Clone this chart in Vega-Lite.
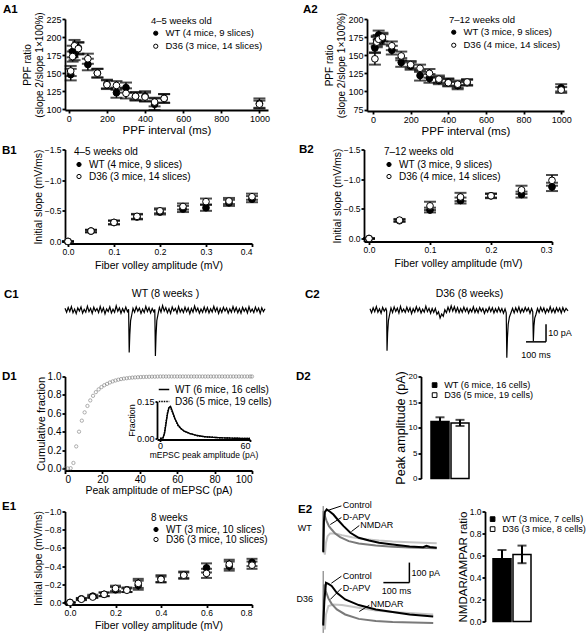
{
"$schema":"https://vega.github.io/schema/vega-lite/v6.json",
"background":"white",
"padding":{"left":2,"top":3,"right":0,"bottom":0},
"config":{
 "font":"Liberation Sans",
 "view":{"stroke":null},
 "axis":{"domainColor":"black","domainWidth":1.8,"tickColor":"black","tickWidth":1.8,"tickSize":3,"labelColor":"black","labelFontSize":9,"titleColor":"black","titleFontSize":10.5,"titleFontWeight":"normal","grid":false,"labelPadding":1,"titlePadding":1},
 "legend":{"labelFontSize":10,"titleFontSize":10,"titleFontWeight":"normal","labelColor":"black","titleColor":"black","symbolStrokeColor":"black","symbolStrokeWidth":1,"symbolSize":18,"rowPadding":2,"padding":0,"titlePadding":3,"labelOffset":5},
 "title":{"fontSize":11.5,"fontWeight":"bold","anchor":"start","frame":"group","color":"black","offset":0,"baseline":"bottom"}
},
"datasets":{
 "A1":[
  {"g":"WT (4 mice, 9 slices)","x":10,"y":148,"e":8},{"g":"WT (4 mice, 9 slices)","x":20,"y":180,"e":8},{"g":"WT (4 mice, 9 slices)","x":30,"y":175,"e":7},{"g":"WT (4 mice, 9 slices)","x":50,"y":185,"e":8},{"g":"WT (4 mice, 9 slices)","x":100,"y":162,"e":8},{"g":"WT (4 mice, 9 slices)","x":150,"y":150,"e":6},{"g":"WT (4 mice, 9 slices)","x":200,"y":135,"e":6},{"g":"WT (4 mice, 9 slices)","x":250,"y":123,"e":7},{"g":"WT (4 mice, 9 slices)","x":300,"y":130,"e":7},{"g":"WT (4 mice, 9 slices)","x":350,"y":118,"e":5},{"g":"WT (4 mice, 9 slices)","x":400,"y":118,"e":7},{"g":"WT (4 mice, 9 slices)","x":450,"y":107,"e":8},{"g":"WT (4 mice, 9 slices)","x":500,"y":115,"e":6},{"g":"WT (4 mice, 9 slices)","x":1000,"y":108,"e":7},
  {"g":"D36 (3 mice, 14 slices)","x":10,"y":153,"e":7},{"g":"D36 (3 mice, 14 slices)","x":20,"y":173,"e":7},{"g":"D36 (3 mice, 14 slices)","x":30,"y":188,"e":8},{"g":"D36 (3 mice, 14 slices)","x":50,"y":184,"e":8},{"g":"D36 (3 mice, 14 slices)","x":100,"y":170,"e":7},{"g":"D36 (3 mice, 14 slices)","x":150,"y":150,"e":6},{"g":"D36 (3 mice, 14 slices)","x":200,"y":134,"e":6},{"g":"D36 (3 mice, 14 slices)","x":250,"y":133,"e":6},{"g":"D36 (3 mice, 14 slices)","x":300,"y":122,"e":7},{"g":"D36 (3 mice, 14 slices)","x":350,"y":118,"e":6},{"g":"D36 (3 mice, 14 slices)","x":400,"y":117,"e":6},{"g":"D36 (3 mice, 14 slices)","x":450,"y":110,"e":6},{"g":"D36 (3 mice, 14 slices)","x":500,"y":115,"e":6},{"g":"D36 (3 mice, 14 slices)","x":1000,"y":107,"e":5}
 ],
 "A2":[
  {"g":"WT (3 mice, 9 slices)","x":10,"y":160,"e":6},{"g":"WT (3 mice, 9 slices)","x":20,"y":170,"e":7},{"g":"WT (3 mice, 9 slices)","x":30,"y":178,"e":6},{"g":"WT (3 mice, 9 slices)","x":50,"y":172,"e":7},{"g":"WT (3 mice, 9 slices)","x":100,"y":157,"e":6},{"g":"WT (3 mice, 9 slices)","x":150,"y":140,"e":6},{"g":"WT (3 mice, 9 slices)","x":200,"y":135,"e":5},{"g":"WT (3 mice, 9 slices)","x":250,"y":122,"e":7},{"g":"WT (3 mice, 9 slices)","x":300,"y":118,"e":6},{"g":"WT (3 mice, 9 slices)","x":350,"y":115,"e":5},{"g":"WT (3 mice, 9 slices)","x":400,"y":113,"e":5},{"g":"WT (3 mice, 9 slices)","x":450,"y":108,"e":5},{"g":"WT (3 mice, 9 slices)","x":500,"y":112,"e":4},{"g":"WT (3 mice, 9 slices)","x":1000,"y":105,"e":5},
  {"g":"D36 (4 mice, 14 slices)","x":10,"y":145,"e":8},{"g":"D36 (4 mice, 14 slices)","x":20,"y":168,"e":7},{"g":"D36 (4 mice, 14 slices)","x":30,"y":172,"e":6},{"g":"D36 (4 mice, 14 slices)","x":50,"y":175,"e":6},{"g":"D36 (4 mice, 14 slices)","x":100,"y":163,"e":6},{"g":"D36 (4 mice, 14 slices)","x":150,"y":149,"e":6},{"g":"D36 (4 mice, 14 slices)","x":200,"y":137,"e":5},{"g":"D36 (4 mice, 14 slices)","x":250,"y":132,"e":5},{"g":"D36 (4 mice, 14 slices)","x":300,"y":125,"e":6},{"g":"D36 (4 mice, 14 slices)","x":350,"y":117,"e":5},{"g":"D36 (4 mice, 14 slices)","x":400,"y":112,"e":5},{"g":"D36 (4 mice, 14 slices)","x":450,"y":110,"e":5},{"g":"D36 (4 mice, 14 slices)","x":500,"y":113,"e":4},{"g":"D36 (4 mice, 14 slices)","x":1000,"y":102,"e":4}
 ],
 "B1":[
  {"g":"WT (4 mice, 9 slices)","x":0,"y":0,"e":0},{"g":"WT (4 mice, 9 slices)","x":0.05,"y":-0.17,"e":0.02},{"g":"WT (4 mice, 9 slices)","x":0.1,"y":-0.31,"e":0.03},{"g":"WT (4 mice, 9 slices)","x":0.15,"y":-0.40,"e":0.04},{"g":"WT (4 mice, 9 slices)","x":0.2,"y":-0.48,"e":0.04},{"g":"WT (4 mice, 9 slices)","x":0.25,"y":-0.53,"e":0.05},{"g":"WT (4 mice, 9 slices)","x":0.3,"y":-0.55,"e":0.05},{"g":"WT (4 mice, 9 slices)","x":0.35,"y":-0.63,"e":0.05},{"g":"WT (4 mice, 9 slices)","x":0.4,"y":-0.69,"e":0.05},
  {"g":"D36 (3 mice, 14 slices)","x":0,"y":0,"e":0},{"g":"D36 (3 mice, 14 slices)","x":0.05,"y":-0.17,"e":0.02},{"g":"D36 (3 mice, 14 slices)","x":0.1,"y":-0.31,"e":0.03},{"g":"D36 (3 mice, 14 slices)","x":0.15,"y":-0.41,"e":0.04},{"g":"D36 (3 mice, 14 slices)","x":0.2,"y":-0.50,"e":0.04},{"g":"D36 (3 mice, 14 slices)","x":0.25,"y":-0.57,"e":0.05},{"g":"D36 (3 mice, 14 slices)","x":0.3,"y":-0.65,"e":0.05},{"g":"D36 (3 mice, 14 slices)","x":0.35,"y":-0.66,"e":0.05},{"g":"D36 (3 mice, 14 slices)","x":0.4,"y":-0.73,"e":0.05}
 ],
 "B2":[
  {"g":"WT (3 mice, 9 slices)","x":0,"y":0,"e":0},{"g":"WT (3 mice, 9 slices)","x":0.05,"y":-0.30,"e":0.02},{"g":"WT (3 mice, 9 slices)","x":0.1,"y":-0.48,"e":0.04},{"g":"WT (3 mice, 9 slices)","x":0.15,"y":-0.64,"e":0.05},{"g":"WT (3 mice, 9 slices)","x":0.2,"y":-0.72,"e":0.04},{"g":"WT (3 mice, 9 slices)","x":0.25,"y":-0.74,"e":0.05},{"g":"WT (3 mice, 9 slices)","x":0.3,"y":-0.87,"e":0.07},
  {"g":"D36 (4 mice, 14 slices)","x":0,"y":0,"e":0},{"g":"D36 (4 mice, 14 slices)","x":0.05,"y":-0.31,"e":0.02},{"g":"D36 (4 mice, 14 slices)","x":0.1,"y":-0.55,"e":0.07},{"g":"D36 (4 mice, 14 slices)","x":0.15,"y":-0.70,"e":0.07},{"g":"D36 (4 mice, 14 slices)","x":0.2,"y":-0.72,"e":0.03},{"g":"D36 (4 mice, 14 slices)","x":0.25,"y":-0.82,"e":0.07},{"g":"D36 (4 mice, 14 slices)","x":0.3,"y":-0.98,"e":0.09}
 ],
 "E1":[
  {"g":"WT (3 mice, 10 slices)","x":0,"y":0,"e":0},{"g":"WT (3 mice, 10 slices)","x":0.05,"y":-0.04,"e":0.01},{"g":"WT (3 mice, 10 slices)","x":0.1,"y":-0.07,"e":0.015},{"g":"WT (3 mice, 10 slices)","x":0.15,"y":-0.09,"e":0.02},{"g":"WT (3 mice, 10 slices)","x":0.2,"y":-0.14,"e":0.03},{"g":"WT (3 mice, 10 slices)","x":0.25,"y":-0.14,"e":0.025},{"g":"WT (3 mice, 10 slices)","x":0.3,"y":-0.19,"e":0.05},{"g":"WT (3 mice, 10 slices)","x":0.4,"y":-0.26,"e":0.04},{"g":"WT (3 mice, 10 slices)","x":0.5,"y":-0.30,"e":0.04},{"g":"WT (3 mice, 10 slices)","x":0.6,"y":-0.38,"e":0.05},{"g":"WT (3 mice, 10 slices)","x":0.7,"y":-0.40,"e":0.05},{"g":"WT (3 mice, 10 slices)","x":0.8,"y":-0.44,"e":0.04},
  {"g":"D36 (3 mice, 10 slices)","x":0,"y":0,"e":0},{"g":"D36 (3 mice, 10 slices)","x":0.05,"y":-0.036,"e":0.01},{"g":"D36 (3 mice, 10 slices)","x":0.1,"y":-0.06,"e":0.01},{"g":"D36 (3 mice, 10 slices)","x":0.15,"y":-0.09,"e":0.02},{"g":"D36 (3 mice, 10 slices)","x":0.2,"y":-0.155,"e":0.03},{"g":"D36 (3 mice, 10 slices)","x":0.25,"y":-0.135,"e":0.02},{"g":"D36 (3 mice, 10 slices)","x":0.3,"y":-0.21,"e":0.05},{"g":"D36 (3 mice, 10 slices)","x":0.4,"y":-0.255,"e":0.03},{"g":"D36 (3 mice, 10 slices)","x":0.5,"y":-0.30,"e":0.03},{"g":"D36 (3 mice, 10 slices)","x":0.6,"y":-0.32,"e":0.05},{"g":"D36 (3 mice, 10 slices)","x":0.7,"y":-0.42,"e":0.05},{"g":"D36 (3 mice, 10 slices)","x":0.8,"y":-0.41,"e":0.04}
 ],
 "C1":[{"t":0,"v":1.0},{"t":8,"v":-1.2},{"t":16,"v":1.5},{"t":24,"v":-0.8},{"t":32,"v":2.0},{"t":40,"v":-1.5},{"t":48,"v":0.6},{"t":56,"v":-2.0},{"t":64,"v":1.2},{"t":72,"v":-0.5},{"t":80,"v":1.8},{"t":88,"v":-1.7},{"t":96,"v":0.4},{"t":104,"v":-1.2},{"t":112,"v":2.2},{"t":120,"v":-0.9},{"t":128,"v":1.0},{"t":136,"v":-1.9},{"t":144,"v":1.6},{"t":152,"v":-0.6},{"t":160,"v":0.9},{"t":168,"v":-1.4},{"t":176,"v":2.0},{"t":184,"v":-1.0},{"t":192,"v":1.3},{"t":200,"v":-2.1},{"t":208,"v":0.7},{"t":216,"v":-0.8},{"t":224,"v":1.9},{"t":232,"v":-1.6},{"t":240,"v":0.5},{"t":248,"v":-1.3},{"t":256,"v":2.4},{"t":264,"v":-0.7},{"t":272,"v":1.2},{"t":280,"v":-1.8},{"t":288,"v":0.8},{"t":296,"v":-1.1},{"t":304,"v":1.7},{"t":312,"v":-0.9},{"t":318,"v":0.5},{"t":321,"v":-24},{"t":324,"v":-14},{"t":328,"v":-6},{"t":334,"v":-2.5},{"t":340,"v":1.0},{"t":348,"v":-1.2},{"t":356,"v":1.8},{"t":364,"v":-0.7},{"t":372,"v":1.1},{"t":380,"v":-1.9},{"t":388,"v":0.6},{"t":396,"v":-1.4},{"t":404,"v":2.1},{"t":412,"v":-0.8},{"t":420,"v":1.3},{"t":428,"v":-1.6},{"t":436,"v":0.9},{"t":444,"v":-1.0},{"t":449,"v":0.4},{"t":452,"v":-26},{"t":455,"v":-15},{"t":459,"v":-6},{"t":465,"v":-2.4},{"t":472,"v":1.5},{"t":480,"v":-1.2},{"t":488,"v":2.5},{"t":496,"v":-0.6},{"t":504,"v":1.4},{"t":512,"v":-1.5},{"t":520,"v":0.8},{"t":528,"v":-1.9},{"t":536,"v":1.8},{"t":544,"v":-0.5},{"t":552,"v":1.0},{"t":560,"v":-1.7},{"t":568,"v":2.0},{"t":576,"v":-1.1},{"t":584,"v":0.7},{"t":592,"v":-1.4},{"t":600,"v":1.6},{"t":608,"v":-0.9},{"t":616,"v":1.2},{"t":624,"v":-2.0},{"t":632,"v":0.9},{"t":640,"v":-1.2},{"t":648,"v":2.3},{"t":656,"v":-0.7},{"t":664,"v":1.1},{"t":672,"v":-1.8},{"t":680,"v":0.6},{"t":688,"v":-1.3},{"t":696,"v":1.7},{"t":704,"v":-1.0},{"t":712,"v":1.4},{"t":720,"v":-1.6},{"t":728,"v":0.8},{"t":736,"v":-1.1},{"t":744,"v":2.1},{"t":752,"v":-0.8},{"t":760,"v":1.3},{"t":768,"v":-1.9},{"t":776,"v":0.9},{"t":784,"v":-1.3},{"t":792,"v":1.6},{"t":800,"v":-0.6},{"t":808,"v":1.2},{"t":816,"v":-1.7},{"t":824,"v":0.7},{"t":832,"v":-1.2},{"t":840,"v":2.0},{"t":848,"v":-0.9},{"t":856,"v":1.4},{"t":864,"v":-1.5},{"t":872,"v":0.8},{"t":880,"v":-1.8},{"t":888,"v":1.5},{"t":896,"v":-0.7},{"t":904,"v":1.0},{"t":912,"v":-1.6},{"t":920,"v":1.9},{"t":928,"v":-1.0},{"t":936,"v":0.6},{"t":944,"v":-1.4},{"t":952,"v":1.7},{"t":960,"v":-0.8},{"t":968,"v":1.1},{"t":976,"v":-1.9},{"t":984,"v":1.3},{"t":992,"v":-0.9},{"t":1000,"v":0.8}],
 "C2":[{"t":0,"v":0.8},{"t":8,"v":-1.5},{"t":16,"v":1.3},{"t":24,"v":-0.9},{"t":32,"v":2.0},{"t":40,"v":-1.2},{"t":48,"v":0.7},{"t":56,"v":-1.8},{"t":64,"v":1.5},{"t":72,"v":-0.6},{"t":80,"v":0.9},{"t":84,"v":-0.5},{"t":86,"v":-23},{"t":89,"v":-13},{"t":93,"v":-6},{"t":99,"v":-2.5},{"t":106,"v":1.2},{"t":114,"v":-1.4},{"t":122,"v":1.8},{"t":130,"v":-0.8},{"t":138,"v":1.1},{"t":146,"v":-1.7},{"t":154,"v":2.1},{"t":162,"v":-1.0},{"t":170,"v":0.6},{"t":178,"v":-1.3},{"t":186,"v":1.6},{"t":194,"v":-0.9},{"t":202,"v":1.3},{"t":210,"v":-2.0},{"t":218,"v":0.8},{"t":226,"v":-1.1},{"t":234,"v":1.9},{"t":242,"v":-0.7},{"t":250,"v":1.2},{"t":258,"v":-1.6},{"t":266,"v":0.5},{"t":274,"v":-1.2},{"t":282,"v":2.2},{"t":290,"v":-0.9},{"t":298,"v":1.0},{"t":306,"v":-1.8},{"t":314,"v":0.9},{"t":322,"v":-1.3},{"t":330,"v":1.0},{"t":338,"v":-2.4},{"t":346,"v":-1.0},{"t":354,"v":-4.5},{"t":362,"v":-2.2},{"t":370,"v":-3.5},{"t":378,"v":0.2},{"t":386,"v":-1.5},{"t":394,"v":1.6},{"t":402,"v":-0.8},{"t":410,"v":2.4},{"t":418,"v":-0.6},{"t":426,"v":1.9},{"t":434,"v":-1.1},{"t":442,"v":1.4},{"t":450,"v":-1.5},{"t":458,"v":0.9},{"t":466,"v":-1.2},{"t":474,"v":1.7},{"t":482,"v":-0.8},{"t":490,"v":1.1},{"t":498,"v":-1.7},{"t":506,"v":0.7},{"t":514,"v":-1.0},{"t":522,"v":1.8},{"t":530,"v":-1.3},{"t":538,"v":0.8},{"t":546,"v":-1.5},{"t":554,"v":1.5},{"t":562,"v":-0.7},{"t":570,"v":1.0},{"t":578,"v":-1.9},{"t":586,"v":0.6},{"t":594,"v":-1.1},{"t":602,"v":1.6},{"t":610,"v":-0.9},{"t":618,"v":1.3},{"t":626,"v":-1.6},{"t":634,"v":0.8},{"t":642,"v":-1.2},{"t":650,"v":1.4},{"t":658,"v":-1.0},{"t":666,"v":0.9},{"t":674,"v":-1.8},{"t":682,"v":0.7},{"t":688,"v":-1.5},{"t":691,"v":-27},{"t":694,"v":-16},{"t":698,"v":-8},{"t":704,"v":-4},{"t":712,"v":-1.5},{"t":720,"v":1.0},{"t":728,"v":-1.6},{"t":736,"v":1.3},{"t":744,"v":-0.9},{"t":752,"v":1.7},{"t":760,"v":-1.4},{"t":768,"v":0.8},{"t":776,"v":-1.1},{"t":784,"v":1.5},{"t":792,"v":-0.6},{"t":800,"v":1.1},{"t":808,"v":-1.8},{"t":816,"v":0.9},{"t":822,"v":-0.9},{"t":825,"v":-17.5},{"t":828,"v":-9},{"t":832,"v":-4.5},{"t":838,"v":-2.5},{"t":846,"v":0.9},{"t":854,"v":-1.3},{"t":862,"v":1.6},{"t":870,"v":-0.8},{"t":878,"v":1.2},{"t":886,"v":-1.7},{"t":894,"v":0.7},{"t":902,"v":-1.0},{"t":910,"v":1.9},{"t":918,"v":-1.2},{"t":926,"v":0.8},{"t":934,"v":-1.5},{"t":942,"v":1.3},{"t":950,"v":-0.8},{"t":958,"v":1.1},{"t":966,"v":-1.6},{"t":974,"v":1.4},{"t":982,"v":-0.9},{"t":990,"v":1.0},{"t":1000,"v":-0.5}],
 "D1cdf":[{"x":0,"f":0},{"x":1.5,"f":0},{"x":3,"f":0.003},{"x":4.5,"f":0.06},{"x":6,"f":0.24},{"x":7.5,"f":0.40},{"x":9,"f":0.52},{"x":10.5,"f":0.61},{"x":12,"f":0.68},{"x":13.5,"f":0.74},{"x":15,"f":0.79},{"x":16.5,"f":0.83},{"x":18,"f":0.86},{"x":19.5,"f":0.885},{"x":21,"f":0.905},{"x":22.5,"f":0.92},{"x":24,"f":0.935},{"x":25.5,"f":0.947},{"x":27,"f":0.957},{"x":28.5,"f":0.965},{"x":30,"f":0.972},{"x":31.5,"f":0.977},{"x":33,"f":0.981},{"x":34.5,"f":0.985},{"x":36,"f":0.988},{"x":37.5,"f":0.99},{"x":39,"f":0.992},{"x":40.5,"f":0.994},{"x":42,"f":0.995},{"x":43.5,"f":0.996},{"x":45,"f":0.997},{"x":46.5,"f":0.998},{"x":48,"f":0.998},{"x":49.5,"f":0.999},{"x":51,"f":1},{"x":52.5,"f":1},{"x":54,"f":1},{"x":55.5,"f":1},{"x":57,"f":1},{"x":58.5,"f":1},{"x":60,"f":1},{"x":61.5,"f":1},{"x":63,"f":1},{"x":64.5,"f":1},{"x":66,"f":1},{"x":67.5,"f":1},{"x":69,"f":1},{"x":70.5,"f":1},{"x":72,"f":1},{"x":73.5,"f":1},{"x":75,"f":1},{"x":76.5,"f":1},{"x":78,"f":1},{"x":79.5,"f":1},{"x":81,"f":1},{"x":82.5,"f":1},{"x":84,"f":1},{"x":85.5,"f":1},{"x":87,"f":1},{"x":88.5,"f":1},{"x":90,"f":1},{"x":91.5,"f":1},{"x":93,"f":1},{"x":94.5,"f":1},{"x":96,"f":1},{"x":97.5,"f":1},{"x":99,"f":1},{"x":100,"f":1}],
 "D1hist":[
  {"g":"WT (6 mice, 16 cells)","x":0,"f":0},{"g":"WT (6 mice, 16 cells)","x":2,"f":0.002},{"g":"WT (6 mice, 16 cells)","x":3,"f":0.02},{"g":"WT (6 mice, 16 cells)","x":4,"f":0.06},{"g":"WT (6 mice, 16 cells)","x":5,"f":0.10},{"g":"WT (6 mice, 16 cells)","x":6,"f":0.125},{"g":"WT (6 mice, 16 cells)","x":7,"f":0.13},{"g":"WT (6 mice, 16 cells)","x":8,"f":0.115},{"g":"WT (6 mice, 16 cells)","x":10,"f":0.08},{"g":"WT (6 mice, 16 cells)","x":12,"f":0.055},{"g":"WT (6 mice, 16 cells)","x":14,"f":0.04},{"g":"WT (6 mice, 16 cells)","x":16,"f":0.03},{"g":"WT (6 mice, 16 cells)","x":20,"f":0.02},{"g":"WT (6 mice, 16 cells)","x":25,"f":0.012},{"g":"WT (6 mice, 16 cells)","x":30,"f":0.007},{"g":"WT (6 mice, 16 cells)","x":40,"f":0.003},{"g":"WT (6 mice, 16 cells)","x":50,"f":0.001},{"g":"WT (6 mice, 16 cells)","x":60,"f":0},
  {"g":"D36 (5 mice, 19 cells)","x":0,"f":0},{"g":"D36 (5 mice, 19 cells)","x":2,"f":0.003},{"g":"D36 (5 mice, 19 cells)","x":3,"f":0.025},{"g":"D36 (5 mice, 19 cells)","x":4,"f":0.065},{"g":"D36 (5 mice, 19 cells)","x":5,"f":0.105},{"g":"D36 (5 mice, 19 cells)","x":6,"f":0.128},{"g":"D36 (5 mice, 19 cells)","x":7,"f":0.127},{"g":"D36 (5 mice, 19 cells)","x":8,"f":0.11},{"g":"D36 (5 mice, 19 cells)","x":10,"f":0.078},{"g":"D36 (5 mice, 19 cells)","x":12,"f":0.052},{"g":"D36 (5 mice, 19 cells)","x":14,"f":0.04},{"g":"D36 (5 mice, 19 cells)","x":16,"f":0.031},{"g":"D36 (5 mice, 19 cells)","x":20,"f":0.02},{"g":"D36 (5 mice, 19 cells)","x":25,"f":0.011},{"g":"D36 (5 mice, 19 cells)","x":30,"f":0.007},{"g":"D36 (5 mice, 19 cells)","x":40,"f":0.003},{"g":"D36 (5 mice, 19 cells)","x":50,"f":0.001},{"g":"D36 (5 mice, 19 cells)","x":60,"f":0}
 ],
 "D2":[{"g":"WT (6 mice, 16 cells)","m":11.2,"e":0.8},{"g":"D36 (5 mice, 19 cells)","m":10.9,"e":0.6}],
 "E2b":[{"g":"WT (3 mice, 7 cells)","m":0.57,"e":0.08},{"g":"D36 (3 mice, 8 cells)","m":0.61,"e":0.08}],
 "E2ctrl":[
  {"c":"WT","t":-3,"y":0},{"c":"WT","t":0,"y":0},{"c":"WT","t":2.5,"y":150},{"c":"WT","t":6,"y":195},{"c":"WT","t":12.5,"y":208},{"c":"WT","t":25,"y":197},{"c":"WT","t":37.5,"y":183},{"c":"WT","t":56,"y":153},{"c":"WT","t":75,"y":125},{"c":"WT","t":100,"y":92},{"c":"WT","t":131,"y":67},{"c":"WT","t":169,"y":53},{"c":"WT","t":206,"y":42},{"c":"WT","t":256,"y":33},{"c":"WT","t":319,"y":23},{"c":"WT","t":369,"y":20},{"c":"WT","t":381,"y":27},{"c":"WT","t":394,"y":21},{"c":"WT","t":419,"y":17},
  {"c":"D36","t":-3,"y":-366},{"c":"D36","t":0,"y":-366},{"c":"D36","t":4,"y":-249},{"c":"D36","t":10,"y":-158},{"c":"D36","t":19,"y":-163},{"c":"D36","t":31,"y":-174},{"c":"D36","t":50,"y":-208},{"c":"D36","t":81,"y":-241},{"c":"D36","t":131,"y":-269},{"c":"D36","t":194,"y":-291},{"c":"D36","t":256,"y":-304},{"c":"D36","t":319,"y":-316},{"c":"D36","t":406,"y":-326}
 ],
 "E2dapv":[
  {"c":"WT","t":-3,"y":0},{"c":"WT","t":0,"y":0},{"c":"WT","t":1.25,"y":200},{"c":"WT","t":6,"y":175},{"c":"WT","t":12.5,"y":150},{"c":"WT","t":21,"y":125},{"c":"WT","t":31,"y":108},{"c":"WT","t":44,"y":88},{"c":"WT","t":62.5,"y":70},{"c":"WT","t":94,"y":50},{"c":"WT","t":131,"y":38},{"c":"WT","t":194,"y":28},{"c":"WT","t":256,"y":22},{"c":"WT","t":319,"y":18},{"c":"WT","t":419,"y":15},
  {"c":"D36","t":-3,"y":-366},{"c":"D36","t":0,"y":-366},{"c":"D36","t":2.5,"y":-166},{"c":"D36","t":9,"y":-199},{"c":"D36","t":19,"y":-236},{"c":"D36","t":31,"y":-263},{"c":"D36","t":50,"y":-291},{"c":"D36","t":81,"y":-316},{"c":"D36","t":131,"y":-338},{"c":"D36","t":194,"y":-349},{"c":"D36","t":256,"y":-354},{"c":"D36","t":406,"y":-359}
 ],
 "E2nmdar":[
  {"c":"WT","t":2.5,"y":0},{"c":"WT","t":6,"y":-17},{"c":"WT","t":10,"y":42},{"c":"WT","t":16,"y":75},{"c":"WT","t":25,"y":88},{"c":"WT","t":44,"y":88},{"c":"WT","t":69,"y":80},{"c":"WT","t":106,"y":70},{"c":"WT","t":156,"y":60},{"c":"WT","t":206,"y":53},{"c":"WT","t":256,"y":48},{"c":"WT","t":319,"y":45},{"c":"WT","t":419,"y":40},
  {"c":"D36","t":2.5,"y":-366},{"c":"D36","t":6,"y":-391},{"c":"D36","t":10,"y":-316},{"c":"D36","t":19,"y":-274},{"c":"D36","t":37.5,"y":-266},{"c":"D36","t":69,"y":-269},{"c":"D36","t":131,"y":-283},{"c":"D36","t":194,"y":-296},{"c":"D36","t":256,"y":-304},{"c":"D36","t":406,"y":-316}
 ],
 "E2art":[{"c":"WT","t":0,"y":-4,"y2":225},{"c":"D36","t":0,"y":-408,"y2":-99}],
 "E2ptr":[{"t":67,"t2":18,"y":226,"y2":204},{"t":67,"t2":26,"y":168,"y2":133},{"t":133,"t2":104,"y":128,"y2":98},{"t":67,"t2":30,"y":-125,"y2":-160},{"t":67,"t2":26,"y":-185,"y2":-241},{"t":170,"t2":133,"y":-270,"y2":-301}],
 "E2lab":[{"t":72,"y":228,"s":"Control"},{"t":72,"y":173,"s":"D-APV"},{"t":137,"y":133,"s":"NMDAR"},{"t":72,"y":-122,"s":"Control"},{"t":72,"y":-183,"s":"D-APV"},{"t":174,"y":-262,"s":"NMDAR"}],
 "E2cell":[{"t":-68,"y":118,"s":"WT"},{"t":-68,"y":-241,"s":"D36"}],
 "E2bar":[{"t":222,"t2":318,"y":-157,"y2":-157},{"t":318,"t2":318,"y":-57,"y2":-157}]
},
"resolve":{"scale":{"fill":"independent","strokeDash":"independent"},"legend":{"fill":"independent","strokeDash":"independent"}},
"spacing":6.5,
"vconcat":[
 {"hconcat":[
  {"width":203,"height":91,"title":{"text":"A1","dx":-62,"dy":8},"data":{"name":"A1"},
   "encoding":{
    "x":{"field":"x","type":"quantitative","scale":{"domain":[-20,1045],"nice":false,"zero":false},"axis":{"values":[0,200,400,600,800,1000],"format":"d","title":"PPF interval (ms)","titleFontSize":11.5}},
    "y":{"field":"y","type":"quantitative","scale":{"domain":[99,225],"nice":false,"zero":false},"axis":{"values":[100,125,150,175,200,225],"title":["PPF ratio","(slope 2/slope 1×100%)"],"titleFontSize":10}}},
   "layer":[
    {"mark":{"type":"errorbar","ticks":{"size":12,"thickness":2},"thickness":1.5,"color":"black"},"encoding":{"yError":{"field":"e"}}},
    {"mark":{"type":"point","filled":true,"shape":"circle","size":45,"stroke":"black","strokeWidth":1,"opacity":1},
     "encoding":{"fill":{"field":"g","type":"nominal","scale":{"domain":["WT (4 mice, 9 slices)","D36 (3 mice, 14 slices)"],"range":["black","white"]},"legend":{"title":"4–5 weeks old","orient":"none","legendX":86,"legendY":-3,"labelFontSize":9.5,"titleFontSize":9.5}}}}
   ]},
  {"width":197,"height":92,"title":{"text":"A2","dx":-64,"dy":7},"data":{"name":"A2"},
   "encoding":{
    "x":{"field":"x","type":"quantitative","scale":{"domain":[-32,1015],"nice":false,"zero":false},"axis":{"values":[0,200,400,600,800,1000],"format":"d","title":"PPF interval (ms)","titleFontSize":11.5}},
    "y":{"field":"y","type":"quantitative","scale":{"domain":[73,200],"nice":false,"zero":false},"axis":{"values":[75,100,125,150,175,200],"title":["PPF ratio","(slope 2/slope 1×100%)"],"titleFontSize":10}}},
   "layer":[
    {"mark":{"type":"errorbar","ticks":{"size":12,"thickness":2},"thickness":1.5,"color":"black"},"encoding":{"yError":{"field":"e"}}},
    {"mark":{"type":"point","filled":true,"shape":"circle","size":45,"stroke":"black","strokeWidth":1,"opacity":1},
     "encoding":{"fill":{"field":"g","type":"nominal","scale":{"domain":["WT (3 mice, 9 slices)","D36 (4 mice, 14 slices)"],"range":["black","white"]},"legend":{"title":"7–12 weeks old","orient":"none","legendX":82,"legendY":-4,"labelFontSize":9.5,"titleFontSize":9.5}}}}
   ]}
 ],"spacing":33,
 "resolve":{"scale":{"fill":"independent"},"legend":{"fill":"independent"}}},
 {"vconcat":[
  {"hconcat":[
   {"width":187,"height":94,"title":{"text":"B1","dx":-63,"dy":15},"data":{"name":"B1"},
    "encoding":{
     "x":{"field":"x","type":"quantitative","scale":{"domain":[-0.0065,0.4],"nice":false,"zero":false},"axis":{"values":[0,0.1,0.2,0.3,0.4],"format":".1f","title":"Fiber volley amplitude (mV)","titlePadding":4,"labelFontSize":8.5}},
     "y":{"field":"y","type":"quantitative","scale":{"domain":[0.033,-1.5],"nice":false,"zero":false},"axis":{"values":[0,-0.5,-1,-1.5],"format":".1f","title":"Initial slope (mV/ms)","labelFontSize":8.5}}},
    "layer":[
     {"mark":{"type":"errorbar","ticks":{"size":12,"thickness":2},"thickness":1.5,"color":"black"},"encoding":{"yError":{"field":"e"}}},
     {"mark":{"type":"point","filled":true,"shape":"circle","size":45,"stroke":"black","strokeWidth":1,"opacity":1},
      "encoding":{"fill":{"field":"g","type":"nominal","scale":{"domain":["WT (4 mice, 9 slices)","D36 (3 mice, 14 slices)"],"range":["black","white"]},"legend":{"title":"4–5 weeks old","orient":"none","legendX":9,"legendY":-3}}}}
    ]},
   {"width":188,"height":92,"title":{"text":"B2","dx":-65,"dy":14},"data":{"name":"B2"},
    "encoding":{
     "x":{"field":"x","type":"quantitative","scale":{"domain":[-0.0082,0.3],"nice":false,"zero":false},"axis":{"values":[0,0.1,0.2,0.3],"format":".1f","title":"Fiber volley amplitude (mV)","titlePadding":4,"labelFontSize":8.5}},
     "y":{"field":"y","type":"quantitative","scale":{"domain":[0.05,-1.5],"nice":false,"zero":false},"axis":{"values":[0,-0.5,-1,-1.5],"format":".1f","title":"Initial slope (mV/ms)","labelFontSize":8.5}}},
    "layer":[
     {"mark":{"type":"errorbar","ticks":{"size":12,"thickness":2},"thickness":1.5,"color":"black"},"encoding":{"yError":{"field":"e"}}},
     {"mark":{"type":"point","filled":true,"shape":"circle","size":45,"stroke":"black","strokeWidth":1,"opacity":1},
      "encoding":{"fill":{"field":"g","type":"nominal","scale":{"domain":["WT (3 mice, 9 slices)","D36 (4 mice, 14 slices)"],"range":["black","white"]},"legend":{"title":"7–12 weeks old","orient":"none","legendX":20,"legendY":-3}}}}
    ]}
  ],"spacing":41,
  "resolve":{"scale":{"fill":"independent"},"legend":{"fill":"independent"}}},
  {"vconcat":[
   {"hconcat":[
    {"width":200,"height":60,"title":{"text":"C1","dx":-61,"dy":16},"data":{"name":"C1"},
     "mark":{"type":"line","color":"black","strokeWidth":1.2},
     "encoding":{
      "x":{"field":"t","type":"quantitative","scale":{"domain":[0,1000],"nice":false,"zero":false},"axis":{"orient":"top","title":"WT (8 weeks )","labels":false,"ticks":false,"domain":false,"titlePadding":1}},
      "y":{"field":"v","type":"quantitative","scale":{"domain":[-28,6],"nice":false,"zero":false},"axis":null}}},
    {"width":198,"height":60,"title":{"text":"C2","dx":-65,"dy":16},
     "layer":[
      {"data":{"name":"C2"},"mark":{"type":"line","color":"black","strokeWidth":1.2},
       "encoding":{
        "x":{"field":"t","type":"quantitative","scale":{"domain":[0,1000],"nice":false,"zero":false},"axis":{"orient":"top","title":"D36 (8 weeks)","labels":false,"ticks":false,"domain":false,"titlePadding":1}},
        "y":{"field":"v","type":"quantitative","scale":{"domain":[-28,6],"nice":false,"zero":false},"axis":null}}},
      {"data":{"values":[{"t":788,"t2":889,"v":-18,"v2":-18},{"t":889,"t2":889,"v":-8,"v2":-18}]},"mark":{"type":"rule","color":"black","strokeWidth":1.5},
       "encoding":{"x":{"field":"t","type":"quantitative"},"x2":{"field":"t2"},"y":{"field":"v","type":"quantitative"},"y2":{"field":"v2"}}},
      {"data":{"values":[{"t":900,"v":-13,"s":"10 pA"}]},"mark":{"type":"text","align":"left","baseline":"middle","fontSize":9,"font":"Liberation Sans"},
       "encoding":{"x":{"field":"t","type":"quantitative"},"y":{"field":"v","type":"quantitative"},"text":{"field":"s"}}},
      {"data":{"values":[{"t":838,"v":-25.5,"s":"100 ms"}]},"mark":{"type":"text","align":"center","baseline":"middle","fontSize":9,"font":"Liberation Sans"},
       "encoding":{"x":{"field":"t","type":"quantitative"},"y":{"field":"v","type":"quantitative"},"text":{"field":"s"}}}
     ]}
   ],"spacing":37},
   {"vconcat":[
    {"hconcat":[
     {"width":187,"height":94,"title":{"text":"D1","dx":-63,"dy":14.5},
      "layer":[
       {"data":{"name":"D1cdf"},"mark":{"type":"point","shape":"circle","size":11,"filled":false,"stroke":"#6e6e6e","strokeWidth":0.8},
        "encoding":{
         "x":{"field":"x","type":"quantitative","scale":{"domain":[0,100],"nice":false,"zero":false},"axis":{"values":[0,20,40,60,80,100],"title":"Peak amplitude of mEPSC (pA)","orient":"bottom","labelFontSize":10}},
         "y":{"field":"f","type":"quantitative","scale":{"domain":[-0.022,1],"nice":false,"zero":false},"axis":{"values":[0,0.2,0.4,0.6,0.8,1],"format":".1f","title":"Cumulative fraction","orient":"left","titleFontSize":11,"labelFontSize":10}}}},
       {"data":{"name":"D1hist"},"mark":{"type":"line","color":"black","strokeWidth":1.4},
        "encoding":{
         "x":{"field":"x","type":"quantitative","scale":{"domain":[-2,60],"range":[92,185],"nice":false,"zero":false},"axis":{"orient":"bottom","offset":-31,"values":[0,60],"title":"mEPSC peak amplitude (pA)","titleFontSize":8.5,"labelFontSize":9,"titlePadding":0,"labelPadding":0,"tickSize":2}},
         "y":{"field":"f","type":"quantitative","scale":{"domain":[0,0.15],"range":[62,25],"nice":false,"zero":false},"axis":{"orient":"left","offset":-92,"values":[0,0.15],"format":".2f","title":"Fraction","titleFontSize":9,"titlePadding":0,"labelFontSize":9,"tickSize":2}},
         "strokeDash":{"field":"g","type":"nominal","scale":{"domain":["WT (6 mice, 16 cells)","D36 (5 mice, 19 cells)"],"range":[[1,0],[1.5,1]]},"legend":{"title":null,"orient":"none","legendX":93,"legendY":7,"symbolStrokeWidth":1.5,"symbolSize":110,"symbolType":"stroke","rowPadding":1}}}}
      ],
      "resolve":{"scale":{"x":"independent","y":"independent"},"axis":{"x":"independent","y":"independent"}}},
     {"width":58,"height":102,"title":{"text":"D2","dx":-125,"dy":15.5},"data":{"name":"D2"},
      "encoding":{"x":{"field":"g","type":"nominal","sort":null,"scale":{"paddingInner":0.1,"paddingOuter":0.5},"axis":null},
       "y":{"field":"m","type":"quantitative","scale":{"domain":[0,20],"nice":false},"axis":{"values":[0,5,10,15,20],"title":"Peak amplitude (pA)","titleFontSize":12.5,"labelFontSize":8}}},
      "layer":[
       {"mark":{"type":"bar","stroke":"black","strokeWidth":1.5},
        "encoding":{"fill":{"field":"g","type":"nominal","scale":{"domain":["WT (6 mice, 16 cells)","D36 (5 mice, 19 cells)"],"range":["black","white"]},"legend":{"title":null,"orient":"none","legendX":9,"legendY":4,"symbolType":"square","symbolSize":22,"labelFontSize":9.2,"rowPadding":0}}}},
       {"mark":{"type":"errorbar","ticks":{"size":9,"thickness":2},"thickness":2,"color":"black"},
        "encoding":{"yError":{"field":"e"}}}
      ]}
    ],"spacing":24,
    "resolve":{"scale":{"fill":"independent","strokeDash":"independent"},"legend":{"fill":"independent","strokeDash":"independent"}}},
    {"hconcat":[
     {"width":187,"height":93,"title":{"text":"E1","dx":-63,"dy":9},"data":{"name":"E1"},
      "encoding":{
       "x":{"field":"x","type":"quantitative","scale":{"domain":[-0.022,0.8],"nice":false,"zero":false},"axis":{"values":[0,0.2,0.4,0.6,0.8],"format":".1f","title":"Fiber volley amplitude (mV)","titlePadding":3,"labelFontSize":8.5}},
       "y":{"field":"y","type":"quantitative","scale":{"domain":[0.022,-1.0],"nice":false,"zero":false},"axis":{"values":[0,-0.2,-0.4,-0.6,-0.8,-1],"format":".1f","title":"Initial slope (mV/ms)","labelFontSize":8.5}}},
      "layer":[
       {"mark":{"type":"errorbar","ticks":{"size":11,"thickness":2},"thickness":1.5,"color":"black"},"encoding":{"yError":{"field":"e"}}},
       {"mark":{"type":"point","filled":true,"shape":"circle","size":45,"stroke":"black","strokeWidth":1,"opacity":1},
        "encoding":{"fill":{"field":"g","type":"nominal","scale":{"domain":["WT (3 mice, 10 slices)","D36 (3 mice, 10 slices)"],"range":["black","white"]},"legend":{"title":"8 weeks","orient":"none","legendX":86,"legendY":1,"rowPadding":0,"titlePadding":2}}}}
      ]},
     {"width":153,"height":123,"title":{"text":"E2","dx":14,"dy":18},
      "encoding":{
       "x":{"field":"t","type":"quantitative","scale":{"domain":[-145,420],"nice":false,"zero":false},"axis":null},
       "y":{"field":"y","type":"quantitative","scale":{"domain":[-416,198],"nice":false,"zero":false},"axis":null}},
      "layer":[
       {"data":{"name":"E2art"},"mark":{"type":"rule","color":"#9a9a9a","strokeWidth":1.5},"encoding":{"y2":{"field":"y2"}}},
       {"data":{"name":"E2nmdar"},"mark":{"type":"line","color":"#c4c4c4","strokeWidth":2},"encoding":{"detail":{"field":"c"}}},
       {"data":{"name":"E2dapv"},"mark":{"type":"line","color":"#7a7a7a","strokeWidth":2},"encoding":{"detail":{"field":"c"}}},
       {"data":{"name":"E2ctrl"},"mark":{"type":"line","color":"black","strokeWidth":2},"encoding":{"detail":{"field":"c"}}},
       {"data":{"name":"E2ptr"},"mark":{"type":"rule","color":"black","strokeWidth":1},"encoding":{"x2":{"field":"t2"},"y2":{"field":"y2"}}},
       {"data":{"name":"E2lab"},"mark":{"type":"text","align":"left","baseline":"middle","fontSize":9,"font":"Liberation Sans"},"encoding":{"text":{"field":"s"}}},
       {"data":{"name":"E2cell"},"mark":{"type":"text","align":"center","baseline":"middle","fontSize":9,"font":"Liberation Sans"},"encoding":{"text":{"field":"s"}}},
       {"data":{"name":"E2bar"},"mark":{"type":"rule","color":"black","strokeWidth":1.5},"encoding":{"x2":{"field":"t2"},"y2":{"field":"y2"}}},
       {"data":{"values":[{"t":326,"y":-107,"s":"100 pA"}]},"mark":{"type":"text","align":"left","baseline":"middle","fontSize":9,"font":"Liberation Sans"},"encoding":{"text":{"field":"s"}}},
       {"data":{"values":[{"t":270,"y":-197,"s":"100 ms"}]},"mark":{"type":"text","align":"center","baseline":"middle","fontSize":9,"font":"Liberation Sans"},"encoding":{"text":{"field":"s"}}}
      ]},
     {"width":54,"height":110,"data":{"name":"E2b"},
      "encoding":{"x":{"field":"g","type":"nominal","sort":null,"scale":{"paddingInner":0.1,"paddingOuter":0.4},"axis":null},
       "y":{"field":"m","type":"quantitative","scale":{"domain":[0,1],"nice":false},"axis":{"values":[0,0.2,0.4,0.6,0.8,1],"format":".1f","title":"NMDAR/AMPAR ratio","titleFontSize":11.5,"labelFontSize":8.5}}},
      "layer":[
       {"mark":{"type":"bar","stroke":"black","strokeWidth":1.5},
        "encoding":{"fill":{"field":"g","type":"nominal","scale":{"domain":["WT (3 mice, 7 cells)","D36 (3 mice, 8 cells)"],"range":["black","white"]},"legend":{"title":null,"orient":"none","legendX":3,"legendY":3,"symbolType":"square","symbolSize":22,"labelFontSize":9.2,"rowPadding":0}}}},
       {"mark":{"type":"errorbar","ticks":{"size":9,"thickness":2},"thickness":2,"color":"black"},
        "encoding":{"yError":{"field":"e"}}}
      ]}
    ],"spacing":16,
    "resolve":{"scale":{"fill":"independent"},"legend":{"fill":"independent"}}}
   ],"spacing":4,
   "resolve":{"scale":{"fill":"independent","strokeDash":"independent"},"legend":{"fill":"independent","strokeDash":"independent"}}}
  ],"spacing":10,
  "resolve":{"scale":{"fill":"independent","strokeDash":"independent"},"legend":{"fill":"independent","strokeDash":"independent"}}}
 ],"spacing":18,
 "resolve":{"scale":{"fill":"independent","strokeDash":"independent"},"legend":{"fill":"independent","strokeDash":"independent"}}}
]
}
